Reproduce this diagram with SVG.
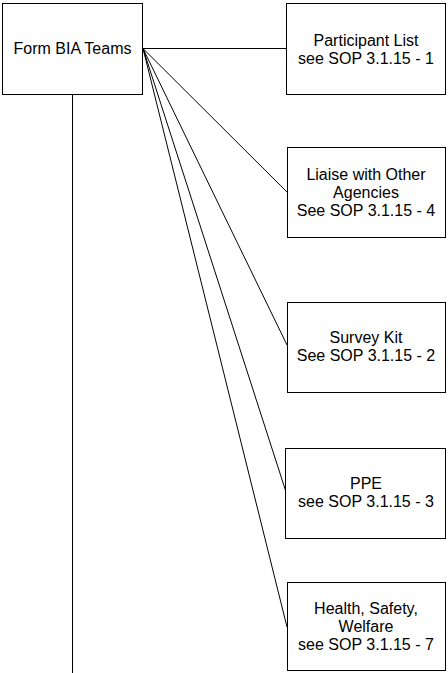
<svg xmlns="http://www.w3.org/2000/svg" width="448" height="673" viewBox="0 0 448 673">
<style>
.box{fill:#fff;stroke:#000;stroke-width:1}
line{stroke:#000;stroke-width:1}
text{font-family:"Liberation Sans",Arial,sans-serif;font-size:16px;fill:#000;text-anchor:middle}
</style>
<rect width="448" height="673" fill="#fff"/>
<g id="connectors">
<line x1="72.5" y1="94" x2="72.5" y2="673"/>
<line x1="143" y1="48.5" x2="286" y2="48.5"/>
<line x1="143" y1="48.5" x2="287" y2="192"/>
<line x1="143" y1="48.5" x2="287" y2="345"/>
<line x1="143" y1="48.5" x2="286" y2="492"/>
<line x1="143" y1="48.5" x2="287" y2="627"/>
</g>
<g id="form-bia-teams">
<rect class="box" x="2.5" y="3.5" width="140" height="91"/>
<text x="72.5" y="54">Form BIA Teams</text>
</g>
<g id="participant-list">
<rect class="box" x="286.5" y="3.5" width="159" height="91"/>
<text x="366" y="46">Participant List</text>
<text x="366" y="64">see SOP 3.1.15 - 1</text>
</g>
<g id="liaise">
<rect class="box" x="287.5" y="147.5" width="158" height="90"/>
<text x="366" y="180">Liaise with Other</text>
<text x="366" y="198">Agencies</text>
<text x="366" y="216">See SOP 3.1.15 - 4</text>
</g>
<g id="survey-kit">
<rect class="box" x="287.5" y="302.5" width="158" height="90"/>
<text x="366" y="343">Survey Kit</text>
<text x="366" y="361">See SOP 3.1.15 - 2</text>
</g>
<g id="ppe">
<rect class="box" x="285.5" y="448.5" width="160" height="90"/>
<text x="366" y="489">PPE</text>
<text x="366" y="507">see SOP 3.1.15 - 3</text>
</g>
<g id="health-safety">
<rect class="box" x="287.5" y="582.5" width="158" height="88"/>
<text x="366" y="614">Health, Safety,</text>
<text x="366" y="632">Welfare</text>
<text x="366" y="650">see SOP 3.1.15 - 7</text>
</g>
</svg>
